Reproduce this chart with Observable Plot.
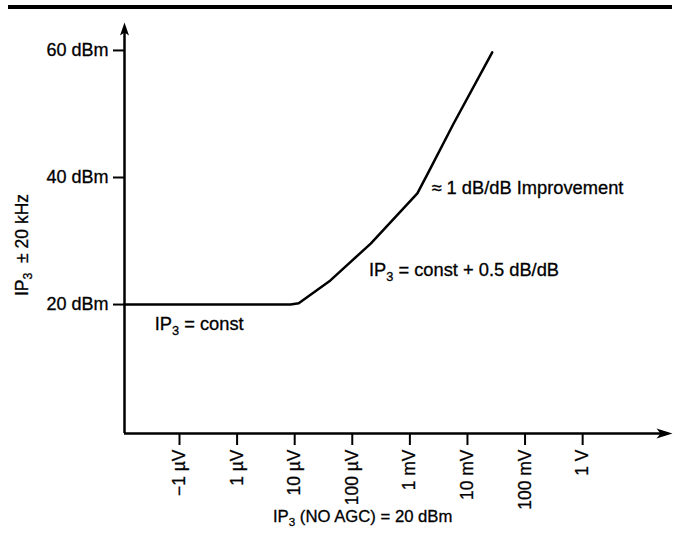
<!DOCTYPE html>
<html><head><meta charset="utf-8">
<script src="https://cdn.jsdelivr.net/npm/d3@7"></script>
<script src="https://cdn.jsdelivr.net/npm/@observablehq/plot@0.6"></script>
<style>
body{margin:0;background:#fff;}
#wrap{position:relative;width:680px;height:533px;overflow:hidden;}
#rule{position:absolute;left:8px;top:5px;width:664px;height:4px;background:#000;}
#chart{position:absolute;left:0;top:0;}
#chart svg text{stroke:#000;stroke-width:0.3px;}
</style></head><body>
<div id="wrap"><div id="chart"></div><div id="rule"></div></div>
<script>
// x-axis categories (log-spaced input levels), placed at index positions
const xTickLabels = ["−1 µV", "1 µV", "10 µV", "100 µV", "1 mV", "10 mV", "100 mV", "1 V"];
// y-axis ticks (dBm)
const yTickValues = [20, 40, 60];
// IP3 curve, x in tick-index units, y in dBm
const curveX = [-0.955, 1.93, 2.07, 2.62, 3.32, 4.13, 4.31, 4.76, 5.43];
const curveY = [20, 20, 20.2, 23.8, 29.6, 37.5, 40.6, 48.5, 59.7];
// annotations
const noteLabels = ["IP₃ = const", "IP₃ = const + 0.5 dB/dB", "≈ 1 dB/dB Improvement"];
const noteX = [-0.43, 3.29, 4.375];
const noteY = [16.9, 25.4, 38.3];
const yTitle = "IP₃  ± 20 kHz";
const xTitle = "IP₃ (NO AGC) = 20 dBm";
const xDomain = [-0.955, 8.56];
const yDomain = [-0.3, 64.4];

const xTicks = xTickLabels.map((d, i) => i);
const curve = curveX.map((x, i) => ({x, y: curveY[i]}));
const notes = noteLabels.map((t, i) => ({t, x: noteX[i], y: noteY[i]}));
const upArrow = {draw(c) { c.moveTo(0, 0); c.lineTo(-4.5, 13); c.lineTo(0, 10); c.lineTo(4.5, 13); c.closePath(); }};
const rightArrow = {draw(c) { c.moveTo(0, 0); c.lineTo(-16, -5); c.lineTo(-12, 0); c.lineTo(-16, 5); c.closePath(); }};

const plot = Plot.plot({
  width: 680, height: 533,
  marginLeft: 124, marginRight: 8, marginTop: 22, marginBottom: 100,
  style: {fontFamily: "'Liberation Sans', Arial, sans-serif", fontSize: "16px", color: "#000", background: "#fff"},
  x: {domain: xDomain},
  y: {domain: yDomain},
  marks: [
    Plot.axisY({ticks: yTickValues, tickFormat: d => `${d} dBm`, tickSize: 11, tickPadding: 5, fontSize: 18, strokeWidth: 2, label: null}),
    Plot.axisX({ticks: xTicks, tickFormat: i => xTickLabels[i], tickSize: 12, tickPadding: 4, tickRotate: -90, fontSize: 17.5, strokeWidth: 2, label: null}),
    Plot.ruleX([xDomain[0]], {y1: yDomain[0], y2: yDomain[1] - 1, strokeWidth: 2.5, stroke: "black"}),
    Plot.ruleY([yDomain[0]], {x1: xDomain[0], x2: xDomain[1] - 0.1, strokeWidth: 2.5, stroke: "black"}),
    Plot.dot([{x: xDomain[0], y: yDomain[1]}], {x: "x", y: "y", symbol: upArrow, fill: "black", stroke: null, r: 5}),
    Plot.dot([{x: xDomain[1], y: yDomain[0]}], {x: "x", y: "y", symbol: rightArrow, fill: "black", stroke: null, r: 5}),
    Plot.line(curve, {x: "x", y: "y", stroke: "black", strokeWidth: 2.5}),
    Plot.text(notes, {x: "x", y: "y", text: "t", textAnchor: "start", fontSize: 18.3, fill: "black"}),
    Plot.text([yTitle], {frameAnchor: "left", textAnchor: "middle", rotate: -90, dx: -102, dy: 17, fontSize: 17.5, fill: "black"}),
    Plot.text([xTitle], {x: 3.18, frameAnchor: "bottom", dy: 88, fontSize: 16.7, fill: "black"})
  ]
});

// render the "₃" as a real lowered subscript digit
d3.select(plot).selectAll("text").each(function() {
  const t = this.textContent;
  if (!t.includes("₃") || this.querySelector("tspan")) return;
  const i = t.indexOf("₃");
  const el = d3.select(this);
  el.text(null);
  el.append("tspan").text(t.slice(0, i));
  el.append("tspan").attr("font-size", "0.7em").attr("dy", "0.35em").text("3");
  el.append("tspan").attr("dy", "-0.245em").text(t.slice(i + 1));
});
document.getElementById("chart").append(plot);
</script>
</body></html>
